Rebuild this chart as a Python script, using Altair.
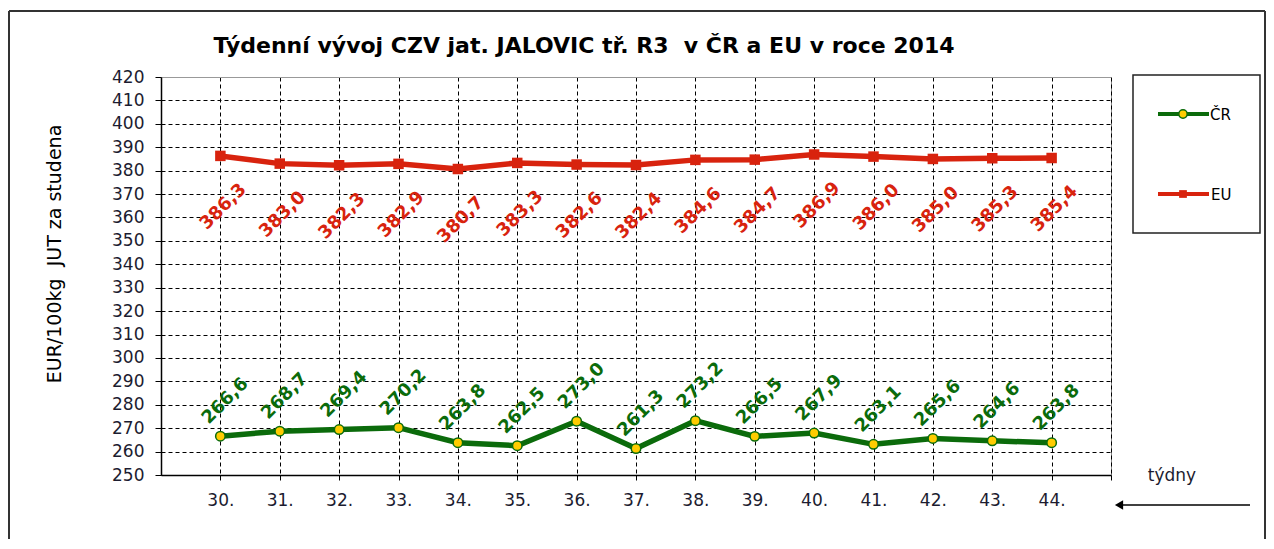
import altair as alt
import pandas as pd

weeks = list(range(30, 45))
cr_values = [266.6, 268.7, 269.4, 270.2, 263.8, 262.5, 273.0, 261.3, 273.2, 266.5, 267.9, 263.1, 265.6, 264.6, 263.8]
eu_values = [386.3, 383.0, 382.3, 382.9, 380.7, 383.3, 382.6, 382.4, 384.6, 384.7, 386.9, 386.0, 385.0, 385.3, 385.4]
series_names = ["ČR", "EU"]
y_ticks = list(range(250, 421, 10))
title_text = "Týdenní vývoj CZV jat. JALOVIC tř. R3\u00a0\u00a0v ČR a EU v roce 2014"
y_title = "EUR/100kg\u00a0\u00a0JUT za studena"
x_title = "týdny"

df = pd.DataFrame({
    "week": weeks * 2,
    "series": [series_names[0]] * len(weeks) + [series_names[1]] * len(weeks),
    "value": cr_values + eu_values,
})

FONT = "DejaVu Sans"
GREEN = "#0b6b0b"
RED = "#d8230e"
YELLOW = "#ffcc00"
LABEL_COLOR = "#1c1c30"

x = alt.X(
    "week:Q",
    scale=alt.Scale(domain=[29, 45], nice=False, zero=False),
    axis=alt.Axis(
        values=weeks + [45],
        labelExpr="datum.value == 45 ? '' : datum.value + '.'",
        title=None, grid=True, gridColor="black", gridDash=[4, 3], gridWidth=1,
        domainColor="black", domainWidth=1.5, tickColor="black", tickSize=5,
        labelFontSize=17, labelFont=FONT, labelColor=LABEL_COLOR, labelPadding=12,
    ),
)
y = alt.Y(
    "value:Q",
    scale=alt.Scale(domain=[250, 420], nice=False, zero=False),
    axis=alt.Axis(
        values=y_ticks, title=None, grid=True,
        gridColor={"condition": {"test": "datum.value == 420", "value": "#999"}, "value": "black"},
        gridDash={"condition": {"test": "datum.value == 420", "value": []}, "value": [4, 3]},
        gridWidth=1,
        domainColor="black", domainWidth=1.5, tickColor="black", tickSize=6,
        labelFontSize=17, labelFont=FONT, labelColor=LABEL_COLOR, labelPadding=11,
    ),
)
color = alt.Color("series:N", scale=alt.Scale(domain=series_names, range=[GREEN, RED]), legend=None)

base = alt.Chart(df).encode(x=x, y=y)

lines = base.mark_line(strokeWidth=5.5).encode(color=color)

cr_pts = base.transform_filter(alt.datum.series == series_names[0]).mark_point(
    shape="circle", filled=True, fill=YELLOW, stroke=GREEN, strokeWidth=1.5, size=90, opacity=1
)
eu_pts = base.transform_filter(alt.datum.series == series_names[1]).mark_square(
    size=110, color=RED, opacity=1
)

lab = base.transform_calculate(label="replace(format(datum.value, '.1f'), '.', ',')")
eu_lab = lab.transform_filter(alt.datum.series == series_names[1]).mark_text(
    angle=315, align="center", baseline="middle", font=FONT, fontSize=18, fontWeight="bold",
    color=RED, xOffset=3, yOffset=51
).encode(text="label:N")
cr_lab = lab.transform_filter(alt.datum.series == series_names[0]).mark_text(
    angle=315, align="center", baseline="middle", font=FONT, fontSize=18, fontWeight="bold",
    color=GREEN, xOffset=5, yOffset=-35
).encode(text="label:N")

one = pd.DataFrame({"k": [0]})

title = alt.Chart(pd.DataFrame({"t": [title_text]})).mark_text(
    font=FONT, fontSize=22, fontWeight="bold", color="black", align="center", baseline="middle"
).encode(x=alt.value(423), y=alt.value(-31), text="t:N")

ytitle = alt.Chart(pd.DataFrame({"t": [y_title]})).mark_text(
    font=FONT, fontSize=19, color="black", align="center", baseline="middle", angle=270
).encode(x=alt.value(-106), y=alt.value(177), text="t:N")

xtitle = alt.Chart(pd.DataFrame({"t": [x_title]})).mark_text(
    font=FONT, fontSize=17, color=LABEL_COLOR, align="center", baseline="middle"
).encode(x=alt.value(1011), y=alt.value(399), text="t:N")

arrow_line = alt.Chart(one).mark_rule(color="black", strokeWidth=1.5).encode(
    x=alt.value(958), x2=alt.value(1089), y=alt.value(428)
)
arrow_head = alt.Chart(one).mark_point(shape="triangle-left", filled=True, color="black", size=90, opacity=1).encode(
    x=alt.value(958), y=alt.value(428)
)

# outer frame
frame_left = alt.Chart(one).mark_rule(color="#333", strokeWidth=2).encode(
    x=alt.value(-152), y=alt.value(-66), y2=alt.value(470)
)
frame_top = alt.Chart(one).mark_rule(color="#333", strokeWidth=2).encode(
    x=alt.value(-152), x2=alt.value(1104), y=alt.value(-66)
)
frame_right = alt.Chart(one).mark_rule(color="#333", strokeWidth=2).encode(
    x=alt.value(1104), y=alt.value(-66), y2=alt.value(470)
)

# legend
leg_box = alt.Chart(one).mark_rect(fill="white", stroke="#222", strokeWidth=1.5).encode(
    x=alt.value(972), x2=alt.value(1099), y=alt.value(-2), y2=alt.value(156)
)
leg_cr_line = alt.Chart(one).mark_rule(color=GREEN, strokeWidth=4).encode(
    x=alt.value(997), x2=alt.value(1048), y=alt.value(37)
)
leg_cr_pt = alt.Chart(one).mark_point(shape="circle", filled=True, fill=YELLOW, stroke=GREEN, strokeWidth=1.5, size=70, opacity=1).encode(
    x=alt.value(1022), y=alt.value(37)
)
leg_cr_txt = alt.Chart(pd.DataFrame({"t": [series_names[0]]})).mark_text(
    font=FONT, fontSize=15, color="black", align="left", baseline="middle"
).encode(x=alt.value(1049), y=alt.value(38), text="t:N")
leg_eu_line = alt.Chart(one).mark_rule(color=RED, strokeWidth=4).encode(
    x=alt.value(997), x2=alt.value(1048), y=alt.value(117)
)
leg_eu_pt = alt.Chart(one).mark_square(size=60, color=RED, opacity=1).encode(
    x=alt.value(1022), y=alt.value(117)
)
leg_eu_txt = alt.Chart(pd.DataFrame({"t": [series_names[1]]})).mark_text(
    font=FONT, fontSize=15, color="black", align="left", baseline="middle"
).encode(x=alt.value(1050), y=alt.value(118), text="t:N")

chart = alt.layer(
    lines, cr_pts, eu_pts, eu_lab, cr_lab,
    title, ytitle, xtitle, arrow_line, arrow_head,
    frame_left, frame_top, frame_right,
    leg_box, leg_cr_line, leg_cr_pt, leg_cr_txt, leg_eu_line, leg_eu_pt, leg_eu_txt,
).properties(
    width=950, height=398,
    autosize=alt.AutoSizeParams(type="none"),
    padding={"left": 153, "top": 69, "right": 155, "bottom": 64},
    background="white",
).configure_view(stroke="#888", strokeWidth=1)

chart.save("out.html", embed_options={"renderer": "svg", "actions": False})
